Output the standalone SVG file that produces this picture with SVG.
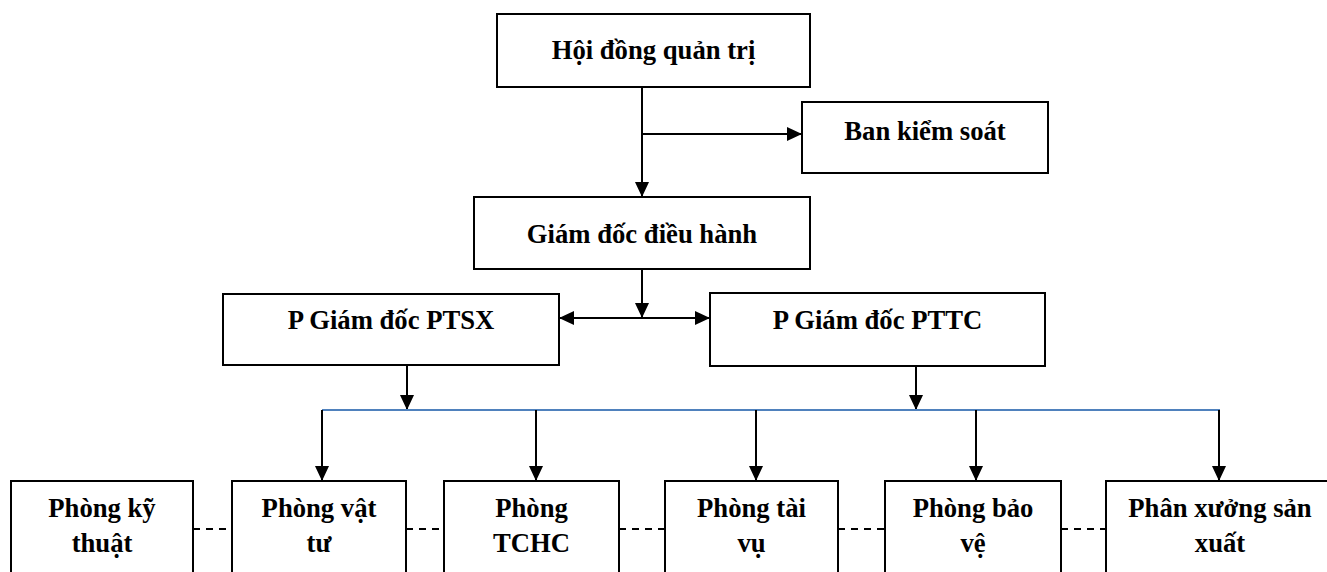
<svg xmlns="http://www.w3.org/2000/svg" width="1327" height="572" viewBox="0 0 1327 572">
<style>
.box{fill:#fff;stroke:#000;stroke-width:2}
.t{font-family:"Liberation Serif","Times New Roman",serif;font-weight:bold;font-size:26.67px;fill:#000;text-anchor:middle}
.c{stroke:#000;stroke-width:2;fill:none}
.d{stroke:#000;stroke-width:2;fill:none;stroke-dasharray:7,6}
.b{stroke:#4F81BD;stroke-width:2;fill:none}
</style>
<defs>
<marker id="ah" viewBox="0 0 15 14" refX="15" refY="7" markerWidth="15" markerHeight="14" markerUnits="userSpaceOnUse" orient="auto-start-reverse">
<path d="M0,0 L15,7 L0,14 Z" fill="#000"/>
</marker>
</defs>
<rect width="1327" height="572" fill="#fff"/>
<g id="connectors">
<line class="c" x1="642" y1="87" x2="642" y2="197" marker-end="url(#ah)"/>
<line class="c" x1="642" y1="134" x2="802" y2="134" marker-end="url(#ah)"/>
<line class="c" x1="642" y1="269" x2="642" y2="318" marker-end="url(#ah)"/>
<line class="c" x1="559" y1="318" x2="710" y2="318" marker-start="url(#ah)" marker-end="url(#ah)"/>
<line class="c" x1="407" y1="365" x2="407" y2="410" marker-end="url(#ah)"/>
<line class="c" x1="916" y1="366" x2="916" y2="410" marker-end="url(#ah)"/>
<line class="b" x1="322" y1="410" x2="1220" y2="410"/>
<line class="c" x1="322" y1="410" x2="322" y2="481" marker-end="url(#ah)"/>
<line class="c" x1="536" y1="410" x2="536" y2="481" marker-end="url(#ah)"/>
<line class="c" x1="756" y1="410" x2="756" y2="481" marker-end="url(#ah)"/>
<line class="c" x1="976" y1="410" x2="976" y2="481" marker-end="url(#ah)"/>
<line class="c" x1="1219" y1="410" x2="1219" y2="481" marker-end="url(#ah)"/>
<line class="d" x1="193" y1="529" x2="232" y2="529"/>
<line class="d" x1="406" y1="529" x2="444" y2="529"/>
<line class="d" x1="619" y1="529" x2="665" y2="529"/>
<line class="d" x1="838" y1="529" x2="885" y2="529"/>
<line class="d" x1="1061" y1="529" x2="1106" y2="529"/>
</g>
<g id="hdqt"><rect class="box" x="497" y="14" width="313" height="73"/><text class="t" x="653.5" y="59">Hội đồng quản trị</text></g>
<g id="bks"><rect class="box" x="802" y="102" width="246" height="71"/><text class="t" x="925" y="140">Ban kiểm soát</text></g>
<g id="gddh"><rect class="box" x="474" y="197" width="336" height="72"/><text class="t" x="642" y="243">Giám đốc điều hành</text></g>
<g id="ptsx"><rect class="box" x="223" y="294" width="336" height="71"/><text class="t" x="391" y="329">P Giám đốc PTSX</text></g>
<g id="pttc"><rect class="box" x="710" y="293" width="335" height="73"/><text class="t" x="877.5" y="329">P Giám đốc PTTC</text></g>
<g id="pkt"><rect class="box" x="11" y="481" width="182" height="110"/><text class="t" x="102" y="517">Phòng kỹ</text><text class="t" x="102" y="552">thuật</text></g>
<g id="pvt"><rect class="box" x="232" y="481" width="174" height="110"/><text class="t" x="319" y="517">Phòng vật</text><text class="t" x="319" y="552">tư</text></g>
<g id="ptchc"><rect class="box" x="444" y="481" width="175" height="110"/><text class="t" x="531.5" y="517">Phòng</text><text class="t" x="531.5" y="552">TCHC</text></g>
<g id="ptv"><rect class="box" x="665" y="481" width="173" height="110"/><text class="t" x="751.5" y="517">Phòng tài</text><text class="t" x="751.5" y="552">vụ</text></g>
<g id="pbv"><rect class="box" x="885" y="481" width="176" height="110"/><text class="t" x="973" y="517">Phòng bảo</text><text class="t" x="973" y="552">vệ</text></g>
<g id="pxsx"><rect class="box" x="1106" y="481" width="240" height="110"/><text class="t" x="1220" y="517">Phân xưởng sản</text><text class="t" x="1220" y="552">xuất</text></g>
</svg>
